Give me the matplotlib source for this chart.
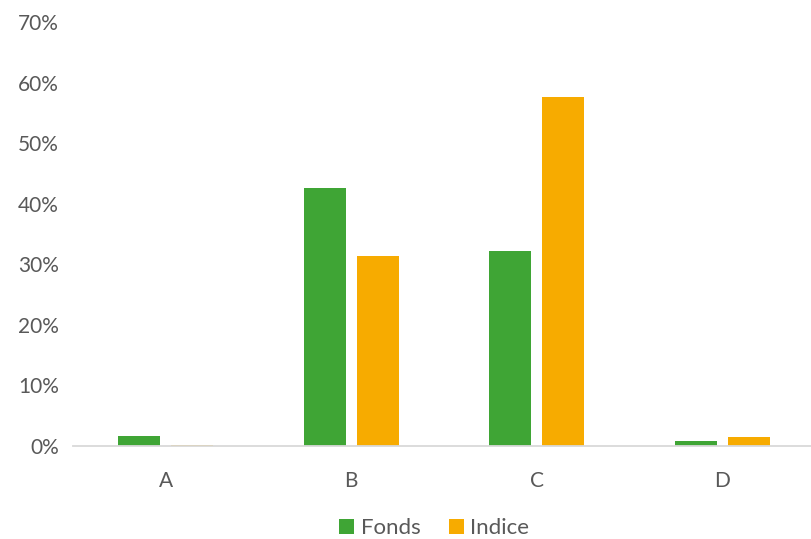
import matplotlib.pyplot as plt
import numpy as np
from matplotlib.ticker import FuncFormatter

categories = ["A", "B", "C", "D"]
fonds = [1.7, 42.6, 32.2, 0.8]
indice = [0.2, 31.4, 57.6, 1.5]
y_ticks = [0, 10, 20, 30, 40, 50, 60, 70]

GREEN = "#3fa535"
ORANGE = "#f7ab00"
GREY_TXT = "#595959"

# Lato is the closest installed match to the Calibri look of the original
plt.rcParams["font.family"] = ["Lato", "DejaVu Sans"]

fig = plt.figure(figsize=(8.12, 5.39), dpi=100)
ax = fig.add_axes([73 / 812, 93 / 539, 742 / 812, 424 / 539])

x = np.arange(len(categories))
w = 0.226
off = 0.142
ax.bar(x - off, fonds, w, color=GREEN, label="Fonds")
ax.bar(x + off, indice, w, color=ORANGE, label="Indice")

ax.set_xlim(-0.5, 3.5)
ax.set_ylim(0, 70)
ax.set_yticks(y_ticks)
ax.yaxis.set_major_formatter(FuncFormatter(lambda v, _: f"{v:.0f}%"))
ax.set_xticks(x)
ax.set_xticklabels(categories)

for s in ["top", "right", "left"]:
    ax.spines[s].set_visible(False)
ax.spines["bottom"].set_color("#d9d9d9")
ax.spines["bottom"].set_linewidth(1.3)
ax.tick_params(axis="both", length=0, labelsize=15, colors=GREY_TXT)
ax.tick_params(axis="x", pad=18)
ax.tick_params(axis="y", pad=10)

fig.legend(loc="lower center", bbox_to_anchor=(0.535, -0.036), ncol=2, frameon=False,
           fontsize=16, handlelength=0.65, handleheight=0.65, handletextpad=0.3,
           columnspacing=1.3, labelcolor=GREY_TXT)

fig.savefig("out.png", dpi=100)
